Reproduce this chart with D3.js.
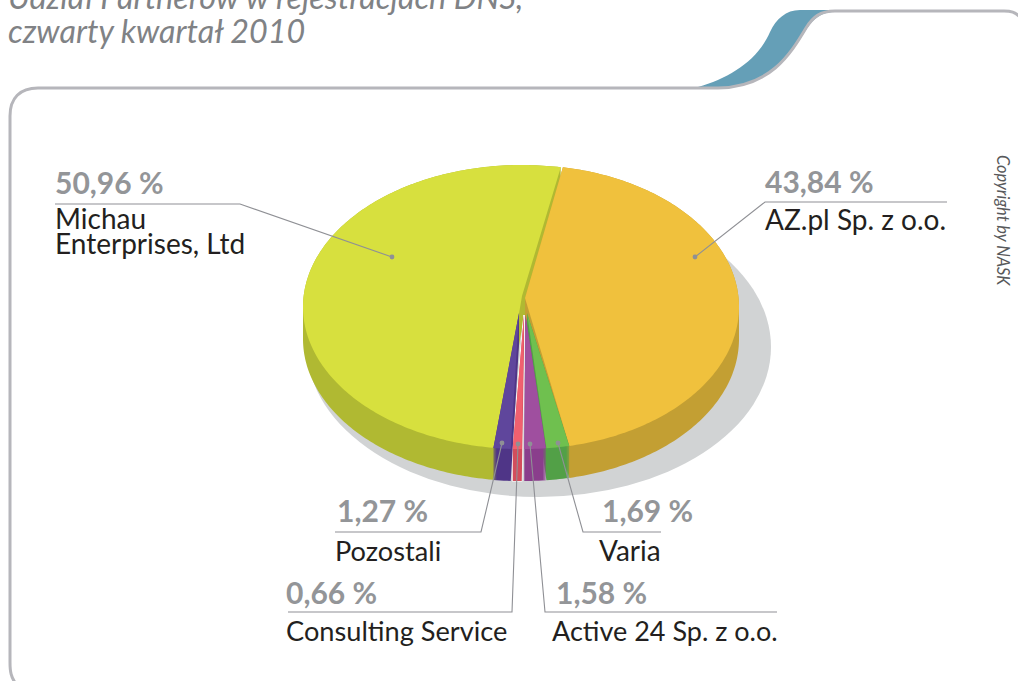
<!DOCTYPE html>
<html><head><meta charset="utf-8">
<script src="https://cdn.jsdelivr.net/npm/d3@7/dist/d3.min.js"></script>
<style>html,body{margin:0;padding:0;background:#fff;overflow:hidden}svg{display:block}text{font-family:Lato,"Noto Sans",sans-serif}</style>
</head><body><div id="c"></div>
<script>
// Data, in pie order (clockwise from the top)
const categories = ["AZ.pl Sp. z o.o.", "Varia", "Active 24 Sp. z o.o.", "Consulting Service", "Pozostali", "Michau Enterprises, Ltd"];
const values = [43.84, 1.69, 1.58, 0.66, 1.27, 50.96];
const valueLabels = ["43,84 %", "1,69 %", "1,58 %", "0,66 %", "1,27 %", "50,96 %"];
const topColors = ["#f0c13d", "#6fc04f", "#9f4f9f", "#f1606f", "#5f469c", "#d7e03e"];
const sideColors = ["#c39f33", "#52a047", "#8a3e8c", "#d34d5c", "#4f3587", "#b0b932"];
const titleLines = ["Udział Partnerów w rejestracjach DNS,", "czwarty kwartał 2010"];
const copyright = "Copyright by NASK";

// Layout
const W = 1018, H = 681;
const startDeg = 10.2, rimCy = 307, ry = 142, depth = 32;
// per-slice explode geometry: rim centre x, rim radius x, apex point
const geom = [
  {cx:525, rx:214, ax:525, ay:298},
  {cx:524, rx:218, ax:527, ay:313},
  {cx:523.5, rx:218, ax:525.5, ay:315},
  {cx:521, rx:218, ax:524, ay:315},
  {cx:519, rx:218, ax:519, ay:313},
  {cx:522, rx:219, ax:522, ay:296}
];
const labelLayout = [
  {pct:[765,193], name:[[765,230]], leader:[[947,202],[765,202],[695,257]], fs:28},
  {pct:[602,522], name:[[599,561]], leader:[[661,532],[583,532],[558,443]], fs:28},
  {pct:[556,604], name:[[552,641]], leader:[[777,612],[545,612],[530,444]], fs:27},
  {pct:[286,604], name:[[286,641]], leader:[[288,612],[512,612],[518,444]], fs:27.2},
  {pct:[337,522], name:[[335,561]], leader:[[335,532],[481,532],[502,443]], fs:27.2},
  {pct:[55,194], name:[[55,229],[55,254]], leader:[[55,204],[240,204],[392,257]], fs:28}
];
const nameLines = d => d === "Michau Enterprises, Ltd" ? ["Michau", "Enterprises, Ltd"] : [d];

const svg = d3.select("#c").append("svg").attr("width", W).attr("height", H);

// Title
svg.append("g").selectAll("text").data(titleLines).join("text")
  .attr("x", 8).attr("y", (d,i) => 9 + i*34)
  .attr("font-size", 32.3).attr("font-style", "italic").attr("fill", "#808285").text(d => d);

// Frame and blue tab
svg.append("path")
  .attr("d", "M698,87 C730,78 758,60 770,32 C776,19 786,10 800,10 L835,10 L832,12 C820,13 812,20 806,30 C790,55 770,87 720,88 Z")
  .attr("fill", "#659fb7");
svg.append("path")
  .attr("d", "M16,684 C11,677 10,672 10,662 L10,116 C10,98 20,88 38,88 L718,88 C770,87 790,55 806,28 C813,17 820,11 835,11 L1004,11 C1011,11 1015,12 1020,17")
  .attr("fill", "none").attr("stroke", "#b6b6bb").attr("stroke-width", 3);

// Pie
const pie = d3.pie().sort(null).value(d => d)
  .startAngle(startDeg*Math.PI/180).endAngle((startDeg+360)*Math.PI/180);
const arcs = pie(values);
const yScale = d3.scaleLinear().domain([-1,1]).range([rimCy+ry, rimCy-ry]);
function outline(a, i) {
  const g = geom[i];
  const xScale = d3.scaleLinear().domain([-1,1]).range([g.cx-g.rx, g.cx+g.rx]);
  const n = Math.max(4, Math.ceil((a.endAngle-a.startAngle)*60));
  const pts = [[g.ax, g.ay]];
  d3.range(n+1).forEach(k => {
    const t = a.startAngle + (a.endAngle-a.startAngle)*k/n;
    pts.push([xScale(Math.sin(t)), yScale(Math.cos(t))]);
  });
  return pts;
}
function ringPath(pts, dy, p) {
  pts.forEach((q,k) => k ? p.lineTo(q[0], q[1]+dy) : p.moveTo(q[0], q[1]+dy));
  p.closePath();
}
const solids = arcs.map((a,i) => {
  const pts = outline(a,i);
  const top = d3.path(); ringPath(pts, 0, top);
  const side = d3.path(); d3.range(0, depth+0.5, 0.5).forEach(dy => ringPath(pts, dy, side));
  return {i, top: top.toString(), side: side.toString()};
});

// shadow
svg.append("ellipse").attr("cx", 539).attr("cy", 347).attr("rx", 232).attr("ry", 150).attr("fill", "#d1d3d4");

const pg = svg.append("g");
const draw = (order) => {
  order.forEach(i => pg.append("path").attr("d", solids[i].side).attr("fill", sideColors[i]));
  order.forEach(i => pg.append("path").attr("d", solids[i].top).attr("fill", topColors[i]));
};
draw([5,0]);
// small slices: white hairline around the pink one
pg.append("path").attr("d", solids[3].side).attr("fill","#fff").attr("stroke","#fff").attr("stroke-width",1.2);
pg.append("path").attr("d", solids[3].top).attr("fill","#fff").attr("stroke","#fff").attr("stroke-width",1.2);
draw([4,1,2,3]);

// Leaders
const line = d3.line();
const lg = svg.append("g");
lg.selectAll("path").data(labelLayout).join("path")
  .attr("d", d => line(d.leader)).attr("fill","none").attr("stroke","#8f9095").attr("stroke-width",1.1);
lg.selectAll("circle").data(labelLayout).join("circle")
  .attr("cx", d => d.leader[2][0]).attr("cy", d => d.leader[2][1]).attr("r", 2.4).attr("fill","#8f9095");

// Labels
const lb = svg.append("g");
lb.selectAll("text.pct").data(labelLayout).join("text").attr("class","pct")
  .attr("x", d => d.pct[0]).attr("y", d => d.pct[1])
  .attr("font-size", 30).attr("font-weight", 700).attr("fill", "#939598")
  .text((d,i) => valueLabels[i]);
categories.forEach((c,i) => {
  nameLines(c).forEach((t,k) => {
    lb.append("text").attr("x", labelLayout[i].name[k][0]).attr("y", labelLayout[i].name[k][1])
      .attr("font-size", labelLayout[i].fs).attr("fill", "#231f20").text(t);
  });
});

// Copyright
svg.append("text").attr("transform", "translate(997,155) rotate(90)")
  .attr("font-size", 16.4).attr("font-style", "italic").attr("fill", "#58595b").text(copyright);
</script></body></html>
